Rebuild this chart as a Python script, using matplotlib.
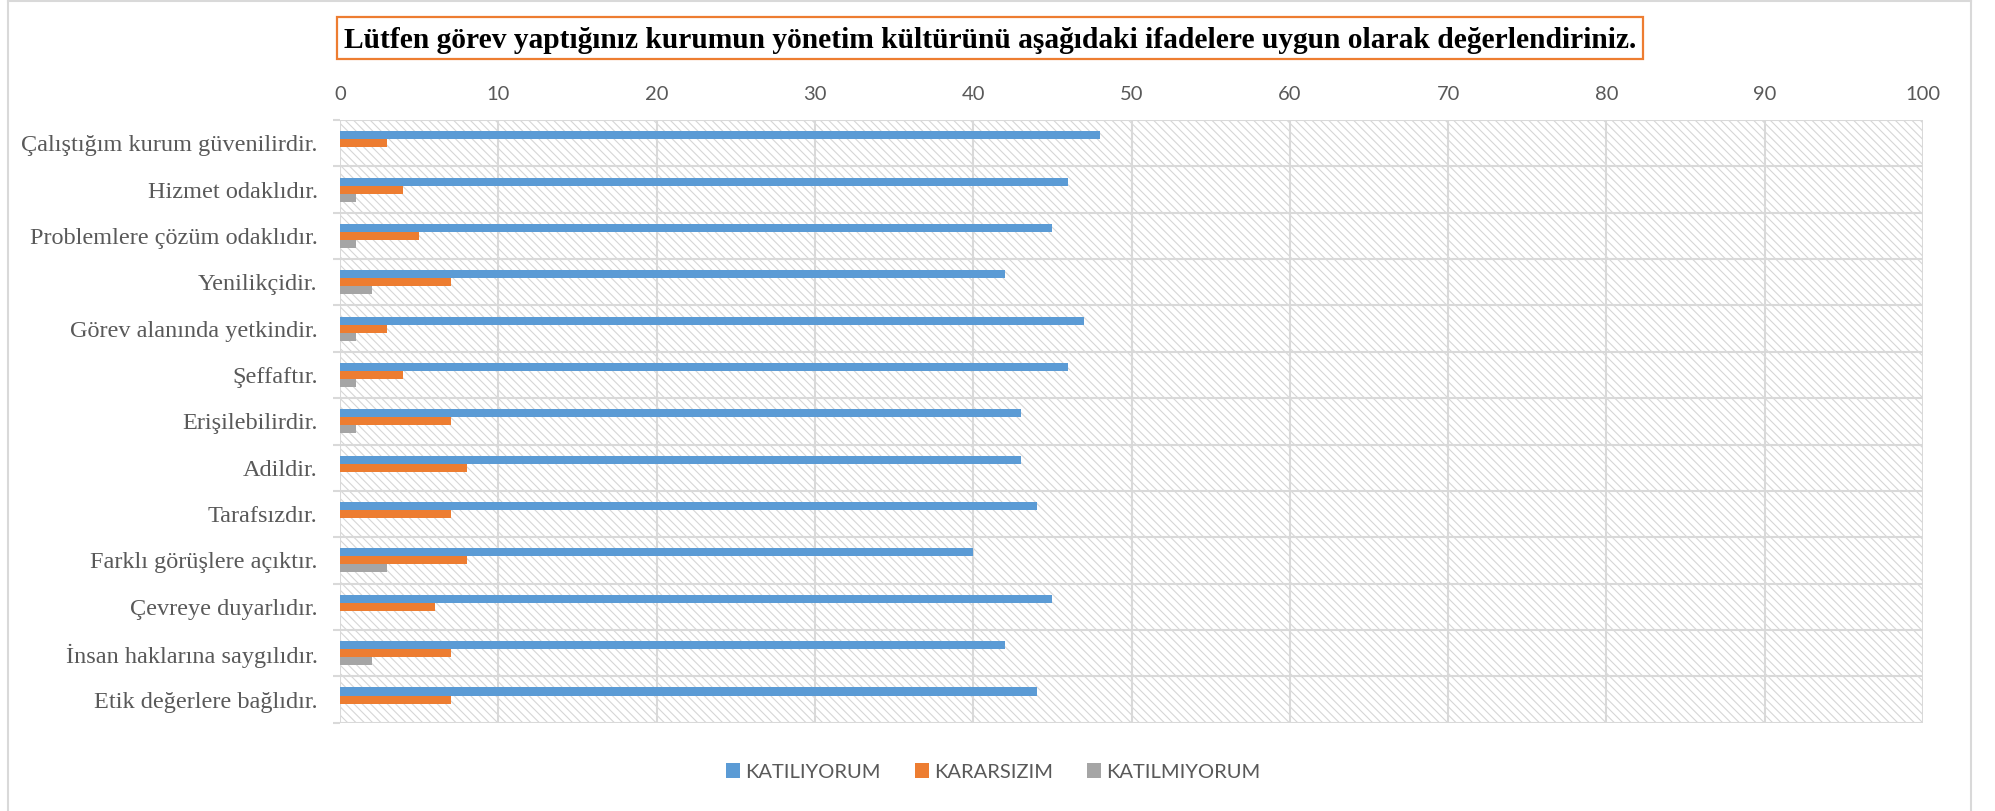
import matplotlib
matplotlib.use("Agg")
import matplotlib.pyplot as plt
from matplotlib.patches import Rectangle, Patch
from matplotlib.lines import Line2D
import numpy as np

title = "Lütfen görev yaptığınız kurumun yönetim kültürünü aşağıdaki ifadelere uygun olarak değerlendiriniz."
categories = [
    "Çalıştığım kurum güvenilirdir.",
    "Hizmet odaklıdır.",
    "Problemlere çözüm odaklıdır.",
    "Yenilikçidir.",
    "Görev alanında yetkindir.",
    "Şeffaftır.",
    "Erişilebilirdir.",
    "Adildir.",
    "Tarafsızdır.",
    "Farklı görüşlere açıktır.",
    "Çevreye duyarlıdır.",
    "İnsan haklarına saygılıdır.",
    "Etik değerlere bağlıdır.",
]
series_names = ["KATILIYORUM", "KARARSIZIM", "KATILMIYORUM"]
katiliyorum = [48, 46, 45, 42, 47, 46, 43, 43, 44, 40, 45, 42, 44]
kararsizim = [3, 4, 5, 7, 3, 4, 7, 8, 7, 8, 6, 7, 7]
katilmiyorum = [0, 1, 1, 2, 1, 1, 1, 0, 0, 3, 0, 2, 0]
x_ticks = [0, 10, 20, 30, 40, 50, 60, 70, 80, 90, 100]

colors = ["#5B9BD5", "#ED7D31", "#A5A5A5"]
grid_c = "#D9D9D9"
text_c = "#595959"

plt.rcParams["hatch.linewidth"] = 0.8

W, H = 1995, 811
fig = plt.figure(figsize=(W / 100, H / 100), dpi=100)
fig.patch.set_facecolor("white")

def fx(px):
    return px / W

def fy(py):
    return 1 - py / H

ax = fig.add_axes([fx(340), fy(722.7), fx(1923) - fx(340), fy(120) - fy(722.7)])
n = len(categories)
y = np.arange(n)
h = 0.173
ax.set_xlim(0, 100)
ax.set_ylim(n - 0.5, -0.5)

# hatched background
bg = Rectangle((0, -0.5), 100, n, facecolor="white", edgecolor="#D6D6D6",
               hatch="\\\\\\\\", lw=0, zorder=0.5)
ax.add_patch(bg)

for vals, off, c in zip([katiliyorum, kararsizim, katilmiyorum], [-h, 0, h], colors):
    ax.barh(y + off, vals, height=h, color=c, zorder=3)

# grid
for xv in x_ticks:
    ax.axvline(xv, color=grid_c, lw=1.5, zorder=1)
for yb in np.arange(-0.5, n, 1.0):
    ax.axhline(yb, color=grid_c, lw=1.5, zorder=1)
for s in ax.spines.values():
    s.set_visible(False)

ax.set_xticks(x_ticks)
ax.set_xticklabels([str(v) for v in x_ticks])
ax.xaxis.tick_top()
ax.tick_params(axis="x", which="both", length=0, pad=12.5, labelsize=14.5,
               labelcolor=text_c)
for t in ax.get_xticklabels():
    t.set_fontfamily("Lato")

ax.set_yticks(y)
ax.set_yticklabels(categories)
ax.set_yticks(np.arange(-0.5, n, 1.0), minor=True)
ax.tick_params(axis="y", which="major", length=0, pad=16, labelsize=17.5,
               labelcolor=text_c)
ax.tick_params(axis="y", which="minor", length=5, width=1.5, color=grid_c)
for t in ax.get_yticklabels():
    t.set_fontfamily("Liberation Serif")

# outer border
fig.add_artist(Line2D([fx(8), fx(8)], [0, fy(1)], color=grid_c, lw=1.5))
fig.add_artist(Line2D([fx(8), fx(1971)], [fy(1), fy(1)], color=grid_c, lw=1.5))
fig.add_artist(Line2D([fx(1971), fx(1971)], [0, fy(1)], color=grid_c, lw=1.5))

# title box
fig.add_artist(Rectangle((fx(337), fy(59)), fx(1643) - fx(337), fy(17) - fy(59),
                         facecolor="white", edgecolor="#ED7D31", lw=1.6,
                         transform=fig.transFigure))
tt = fig.text(fx(990), fy(40), title, ha="center", va="center",
              fontsize=21, fontweight="bold", family="Liberation Serif", color="black")
fig.canvas.draw()
r = fig.canvas.get_renderer()
w = tt.get_window_extent(r).width
tt.set_fontsize(21 * 1288 / w)

handles = [Patch(facecolor=c, edgecolor="none") for c in colors]
leg = fig.legend(handles, series_names, loc="center", bbox_to_anchor=(fx(993), fy(772)),
                 ncol=3, frameon=False, handlelength=0.7, handleheight=0.7,
                 handletextpad=0.25, columnspacing=1.7,
                 prop={"family": "Lato", "size": 14.5})
for t in leg.get_texts():
    t.set_color(text_c)

fig.savefig("out.png", dpi=100, facecolor="white")
